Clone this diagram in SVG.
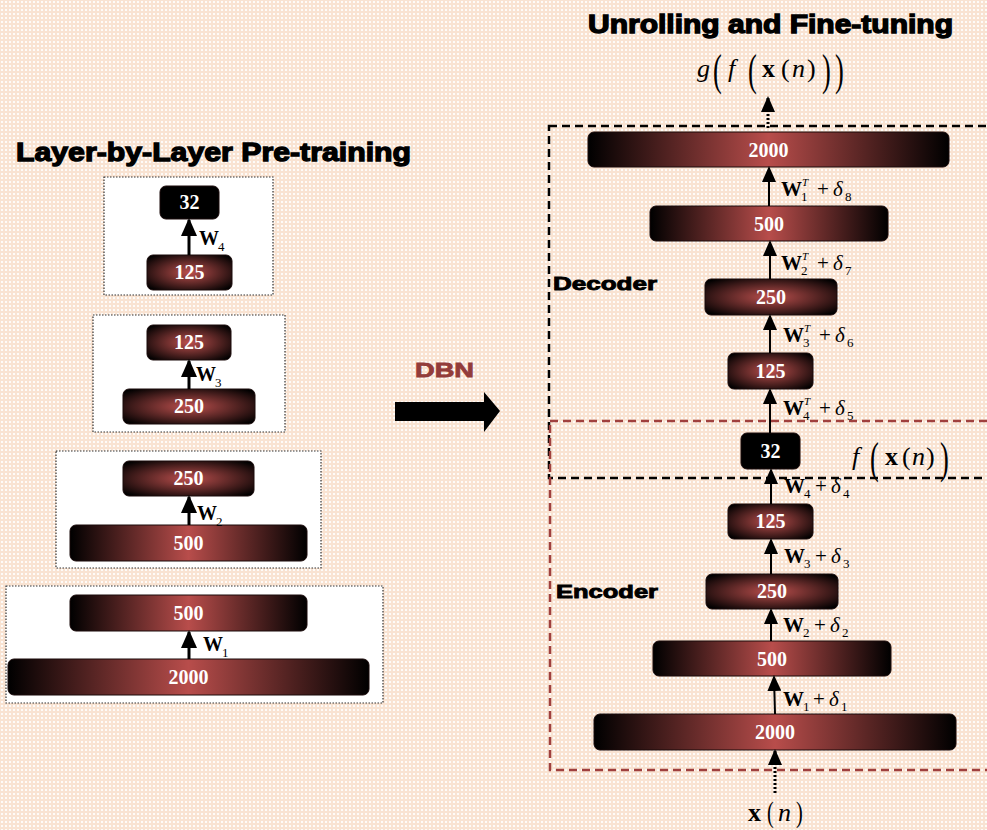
<svg xmlns="http://www.w3.org/2000/svg" width="987" height="830" viewBox="0 0 987 830">
<defs>
  <pattern id="bg" width="4" height="4" patternUnits="userSpaceOnUse">
    <rect width="4" height="4" fill="#f9e3d2"/>
    <rect x="1" y="1" width="2" height="2" fill="#ffffff" opacity="0.85"/>
  </pattern>
  <linearGradient id="gl" x1="0" y1="0" x2="1" y2="0">
    <stop offset="0" stop-color="#000"/>
    <stop offset="0.5" stop-color="#b84d4b"/>
    <stop offset="1" stop-color="#000"/>
  </linearGradient>
  <radialGradient id="gr" cx="0.5" cy="0.5" r="0.65">
    <stop offset="0" stop-color="#bb4f4d"/>
    <stop offset="1" stop-color="#000"/>
  </radialGradient>
  <marker id="ah" markerUnits="userSpaceOnUse" viewBox="0 0 18 16" refX="16" refY="8" markerWidth="18" markerHeight="16" orient="auto">
    <path d="M0,0 L18,8 L0,16 z" fill="#000"/>
  </marker>
  <marker id="ahs" markerUnits="userSpaceOnUse" viewBox="0 0 16 14" refX="14" refY="7" markerWidth="16" markerHeight="14" orient="auto">
    <path d="M0,0 L16,7 L0,14 z" fill="#000"/>
  </marker>
</defs>
<style>
  .title{font-family:"Liberation Sans",Arial,sans-serif;font-weight:bold;fill:#000;stroke:#000;stroke-width:1.3}
  .sec{font-family:"Liberation Sans",Arial,sans-serif;font-weight:bold;fill:#000;stroke:#000;stroke-width:0.9;font-size:19px}
  .nl{font-family:"Liberation Serif","Times New Roman",serif;font-weight:bold;fill:#fff;font-size:20px;text-anchor:middle}
  .bx{stroke:#1a0a0a;stroke-width:1}
  .frame{fill:#fff;stroke:#333;stroke-width:1.2;stroke-dasharray:1.5 1.5}
  .m{font-family:"Liberation Serif","Times New Roman",serif;fill:#000}
  .b{font-weight:bold}
  .i{font-style:italic}
  .arr{stroke:#000;stroke-width:3;marker-end:url(#ah)}
  .arr2{stroke:#000;stroke-width:2;marker-end:url(#ahs)}
  .dot{stroke:#000;stroke-width:3;stroke-dasharray:2 2;marker-end:url(#ahs)}
</style>
<rect width="987" height="830" fill="url(#bg)"/>

<!-- Titles -->
<text class="title" x="16" y="161" font-size="26" textLength="395" lengthAdjust="spacingAndGlyphs">Layer-by-Layer Pre-training</text>
<text class="title" x="588" y="33" font-size="25" textLength="365" lengthAdjust="spacingAndGlyphs">Unrolling and Fine-tuning</text>
<text x="415" y="377" font-family="Liberation Sans,Arial,sans-serif" font-weight="bold" font-size="21" fill="#933c3a" stroke="#933c3a" stroke-width="0.8" textLength="59" lengthAdjust="spacingAndGlyphs">DBN</text>
<polygon id="dbn-arrow" points="395,402 484,402 484,392 500,411 484,432 484,421 395,421" fill="#000"/>

<!-- Left frames -->
<g id="frame4"><rect class="frame" x="104" y="177" width="169" height="118"/></g>
<g id="frame3"><rect class="frame" x="93" y="315" width="192" height="117"/></g>
<g id="frame2"><rect class="frame" x="56" y="451" width="265" height="117"/></g>
<g id="frame1"><rect class="frame" x="6" y="586" width="377" height="117"/></g>

<!-- Left nodes -->
<g id="L4-32"><rect class="bx" x="160" y="186" width="59" height="33" rx="6" fill="#000"/><text class="nl" x="189.5" y="209">32</text></g>
<g id="L4-125"><rect class="bx" x="147" y="255" width="85" height="35" rx="6" fill="url(#gr)"/><text class="nl" x="189.5" y="279">125</text></g>
<g id="L3-125"><rect class="bx" x="147" y="325" width="84" height="35" rx="6" fill="url(#gr)"/><text class="nl" x="189" y="349">125</text></g>
<g id="L3-250"><rect class="bx" x="123" y="389" width="132" height="35" rx="6" fill="url(#gr)"/><text class="nl" x="189" y="413">250</text></g>
<g id="L2-250"><rect class="bx" x="123" y="461" width="131" height="35" rx="6" fill="url(#gr)"/><text class="nl" x="188.5" y="485">250</text></g>
<g id="L2-500"><rect class="bx" x="70" y="525" width="237" height="36" rx="6" fill="url(#gl)"/><text class="nl" x="188.5" y="550">500</text></g>
<g id="L1-500"><rect class="bx" x="70" y="595" width="237" height="36" rx="6" fill="url(#gl)"/><text class="nl" x="188.5" y="620">500</text></g>
<g id="L1-2000"><rect class="bx" x="8" y="659" width="361" height="36" rx="6" fill="url(#gl)"/><text class="nl" x="188.5" y="684">2000</text></g>

<!-- Right frames -->
<g id="decoder-frame"><rect x="549" y="126" width="450" height="352" fill="none" stroke="#000" stroke-width="2.5" stroke-dasharray="8 5"/>
  <text class="sec" x="553" y="290" textLength="104" lengthAdjust="spacingAndGlyphs">Decoder</text></g>
<g id="encoder-frame"><rect x="550" y="421" width="450" height="349" fill="none" stroke="#a0403e" stroke-width="2.5" stroke-dasharray="8 5"/>
  <text class="sec" x="556" y="598" textLength="102" lengthAdjust="spacingAndGlyphs">Encoder</text></g>

<!-- Right nodes -->
<g id="D-2000"><rect class="bx" x="588" y="132" width="361" height="35" rx="6" fill="url(#gl)"/><text class="nl" x="768.5" y="157">2000</text></g>
<g id="D-500"><rect class="bx" x="650" y="206" width="238" height="35" rx="6" fill="url(#gl)"/><text class="nl" x="769" y="231">500</text></g>
<g id="D-250"><rect class="bx" x="705" y="279" width="132" height="36" rx="6" fill="url(#gr)"/><text class="nl" x="771" y="304">250</text></g>
<g id="D-125"><rect class="bx" x="728" y="353" width="85" height="36" rx="6" fill="url(#gr)"/><text class="nl" x="770.5" y="378">125</text></g>
<g id="C-32"><rect class="bx" x="741" y="433" width="59" height="36" rx="6" fill="#000"/><text class="nl" x="770.5" y="458">32</text></g>
<g id="E-125"><rect class="bx" x="728" y="504" width="85" height="35" rx="6" fill="url(#gr)"/><text class="nl" x="770.5" y="528">125</text></g>
<g id="E-250"><rect class="bx" x="706" y="574" width="132" height="35" rx="6" fill="url(#gr)"/><text class="nl" x="772" y="598">250</text></g>
<g id="E-500"><rect class="bx" x="653" y="641" width="238" height="35" rx="6" fill="url(#gl)"/><text class="nl" x="772" y="666">500</text></g>
<g id="E-2000"><rect class="bx" x="594" y="714" width="362" height="36" rx="6" fill="url(#gl)"/><text class="nl" x="775" y="739">2000</text></g>

<!-- Connectors -->
<g id="connectors">
  <line class="arr" x1="189" y1="255" x2="189" y2="220"/>
  <line class="arr" x1="189" y1="389" x2="189" y2="361"/>
  <line class="arr" x1="189" y1="525" x2="189" y2="497"/>
  <line class="arr" x1="189" y1="659" x2="189" y2="632"/>

  <line class="arr2" x1="775" y1="714" x2="774" y2="677"/>
  <line class="arr2" x1="771" y1="641" x2="771" y2="610"/>
  <line class="arr2" x1="771" y1="574" x2="771" y2="540"/>
  <line class="arr2" x1="771" y1="504" x2="771" y2="470"/>
  <line class="arr2" x1="770" y1="433" x2="770" y2="390"/>
  <line class="arr2" x1="770" y1="353" x2="770" y2="316"/>
  <line class="arr2" x1="770" y1="279" x2="770" y2="242"/>
  <line class="arr2" x1="769" y1="206" x2="769" y2="168"/>
  <line class="dot" x1="768" y1="128" x2="768" y2="98"/>
  <line class="dot" x1="775" y1="793" x2="775" y2="751"/>
</g>

<!-- Left weight labels -->
<g id="left-labels">
  <text class="m b" x="199" y="245" font-size="20">W</text><text class="m" x="218" y="251" font-size="13">4</text>
  <text class="m b" x="196" y="381" font-size="20">W</text><text class="m" x="215" y="387" font-size="13">3</text>
  <text class="m b" x="197" y="520" font-size="20">W</text><text class="m" x="216" y="526" font-size="13">2</text>
  <text class="m b" x="203" y="651" font-size="20">W</text><text class="m" x="222" y="657" font-size="13">1</text>
</g>

<!-- Right weight labels -->
<g id="right-labels">
  <text class="m b" x="781" y="196" font-size="21">W</text><text class="m i" x="802" y="186" font-size="11">T</text><text class="m" x="801" y="201" font-size="13">1</text><text class="m" x="817" y="196" font-size="21">+</text><text class="m i" x="833" y="196" font-size="21">δ</text><text class="m" x="845" y="201" font-size="13">8</text>
  <text class="m b" x="781" y="270" font-size="21">W</text><text class="m i" x="802" y="260" font-size="11">T</text><text class="m" x="801" y="275" font-size="13">2</text><text class="m" x="817" y="270" font-size="21">+</text><text class="m i" x="833" y="270" font-size="21">δ</text><text class="m" x="845" y="275" font-size="13">7</text>
  <text class="m b" x="783" y="342" font-size="21">W</text><text class="m i" x="804" y="332" font-size="11">T</text><text class="m" x="803" y="347" font-size="13">3</text><text class="m" x="819" y="342" font-size="21">+</text><text class="m i" x="835" y="342" font-size="21">δ</text><text class="m" x="847" y="347" font-size="13">6</text>
  <text class="m b" x="783" y="415" font-size="21">W</text><text class="m i" x="804" y="405" font-size="11">T</text><text class="m" x="803" y="420" font-size="13">4</text><text class="m" x="819" y="415" font-size="21">+</text><text class="m i" x="835" y="415" font-size="21">δ</text><text class="m" x="847" y="420" font-size="13">5</text>
  <text class="m b" x="784" y="493" font-size="21">W</text><text class="m" x="804" y="498" font-size="13">4</text><text class="m" x="815" y="493" font-size="21">+</text><text class="m i" x="831" y="493" font-size="21">δ</text><text class="m" x="843" y="498" font-size="13">4</text>
  <text class="m b" x="784" y="563" font-size="21">W</text><text class="m" x="804" y="568" font-size="13">3</text><text class="m" x="815" y="563" font-size="21">+</text><text class="m i" x="831" y="563" font-size="21">δ</text><text class="m" x="843" y="568" font-size="13">3</text>
  <text class="m b" x="783" y="632" font-size="21">W</text><text class="m" x="803" y="637" font-size="13">2</text><text class="m" x="814" y="632" font-size="21">+</text><text class="m i" x="830" y="632" font-size="21">δ</text><text class="m" x="842" y="637" font-size="13">2</text>
  <text class="m b" x="783" y="706" font-size="21">W</text><text class="m" x="803" y="711" font-size="13">1</text><text class="m" x="813" y="706" font-size="21">+</text><text class="m i" x="829" y="706" font-size="21">δ</text><text class="m" x="841" y="711" font-size="13">1</text>
</g>

<!-- Formulas -->
<g id="formula-g">
  <text class="m i" x="697" y="77" font-size="26">g</text>
  <text class="m" transform="translate(713,85) scale(0.6,1)" font-size="44">(</text>
  <text class="m i" x="728" y="77" font-size="26">f</text>
  <text class="m" transform="translate(748,85) scale(0.6,1)" font-size="44">(</text>
  <text class="m b" x="762" y="77" font-size="26">x</text>
  <text class="m" x="781" y="77" font-size="26">(</text>
  <text class="m i" x="792" y="77" font-size="26">n</text>
  <text class="m" x="807" y="77" font-size="26">)</text>
  <text class="m" transform="translate(822,85) scale(0.6,1)" font-size="44">)</text>
  <text class="m" transform="translate(835,85) scale(0.6,1)" font-size="44">)</text>
</g>
<g id="formula-f">
  <text class="m i" x="852" y="465" font-size="26">f</text>
  <text class="m" transform="translate(870,473) scale(0.6,1)" font-size="44">(</text>
  <text class="m b" x="885" y="465" font-size="26">x</text>
  <text class="m" x="902" y="465" font-size="26">(</text>
  <text class="m i" x="912" y="465" font-size="26">n</text>
  <text class="m" x="926" y="465" font-size="26">)</text>
  <text class="m" transform="translate(940,473) scale(0.6,1)" font-size="44">)</text>
</g>
<g id="formula-x">
  <text class="m b" x="748" y="821" font-size="26">x</text>
  <text class="m" transform="translate(767,822) scale(0.7,1)" font-size="29">(</text>
  <text class="m i" x="778" y="821" font-size="26">n</text>
  <text class="m" transform="translate(796,822) scale(0.7,1)" font-size="29">)</text>
</g>
</svg>
